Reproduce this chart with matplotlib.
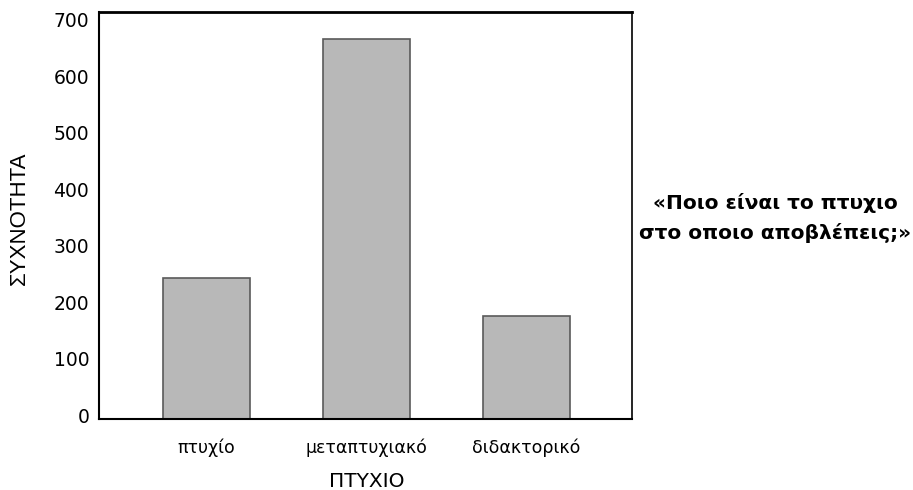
import matplotlib
matplotlib.use("Agg")
import matplotlib.pyplot as plt
import matplotlib.transforms as mtransforms

categories = ["πτυχίο", "μεταπτυχιακό", "διδακτορικό"]
values = [250, 673, 183]
yticks = [0, 100, 200, 300, 400, 500, 600, 700]

plt.rcParams['font.family'] = ['DejaVu Sans']

fig = plt.figure(figsize=(9.13, 4.90), dpi=100)
ax = fig.add_axes([99/913, 71/490, (632-99)/913, (419-12)/490])

x = list(range(len(categories)))
ax.bar(x, values, width=0.544, color="#b8b8b8", edgecolor="#5a5a5a", linewidth=1.2)

ax.set_xlim(-0.672, 2.66)
ax.set_ylim(0, 721)
ax.set_yticks(yticks)
ax.set_yticklabels([str(v) for v in yticks], fontsize=13.5)
ax.set_xticks(x)
ax.set_xticklabels(categories, fontsize=12.5)
ax.tick_params(axis='both', length=0)
ax.tick_params(axis='y', pad=7)
ax.tick_params(axis='x', pad=14)

offset = mtransforms.ScaledTranslation(0, 4/100, fig.dpi_scale_trans)
for lab in ax.get_yticklabels():
    lab.set_transform(lab.get_transform() + offset)

for s in ax.spines.values():
    s.set_color("black")
    s.set_linewidth(1.5)
ax.spines['top'].set_linewidth(2)
ax.spines['right'].set_linewidth(1.2)

fig.text(19/913, 1 - 218/490, "ΣΥΧΝΟΤΗΤΑ", rotation=90, ha='center', va='center',
         fontsize=16, family=['Liberation Sans', 'DejaVu Sans'])
fig.text(367/913, 1 - 481/490, "ΠΤΥΧΙΟ", ha='center', va='center', fontsize=14.5)
fig.text(775/913, 1 - 218/490, "«Ποιο είναι το πτυχιο\nστο οποιο αποβλέπεις;»", ha='center', va='center',
         fontsize=14.5, fontweight='bold', linespacing=1.65)

fig.savefig("out.png", dpi=100)
